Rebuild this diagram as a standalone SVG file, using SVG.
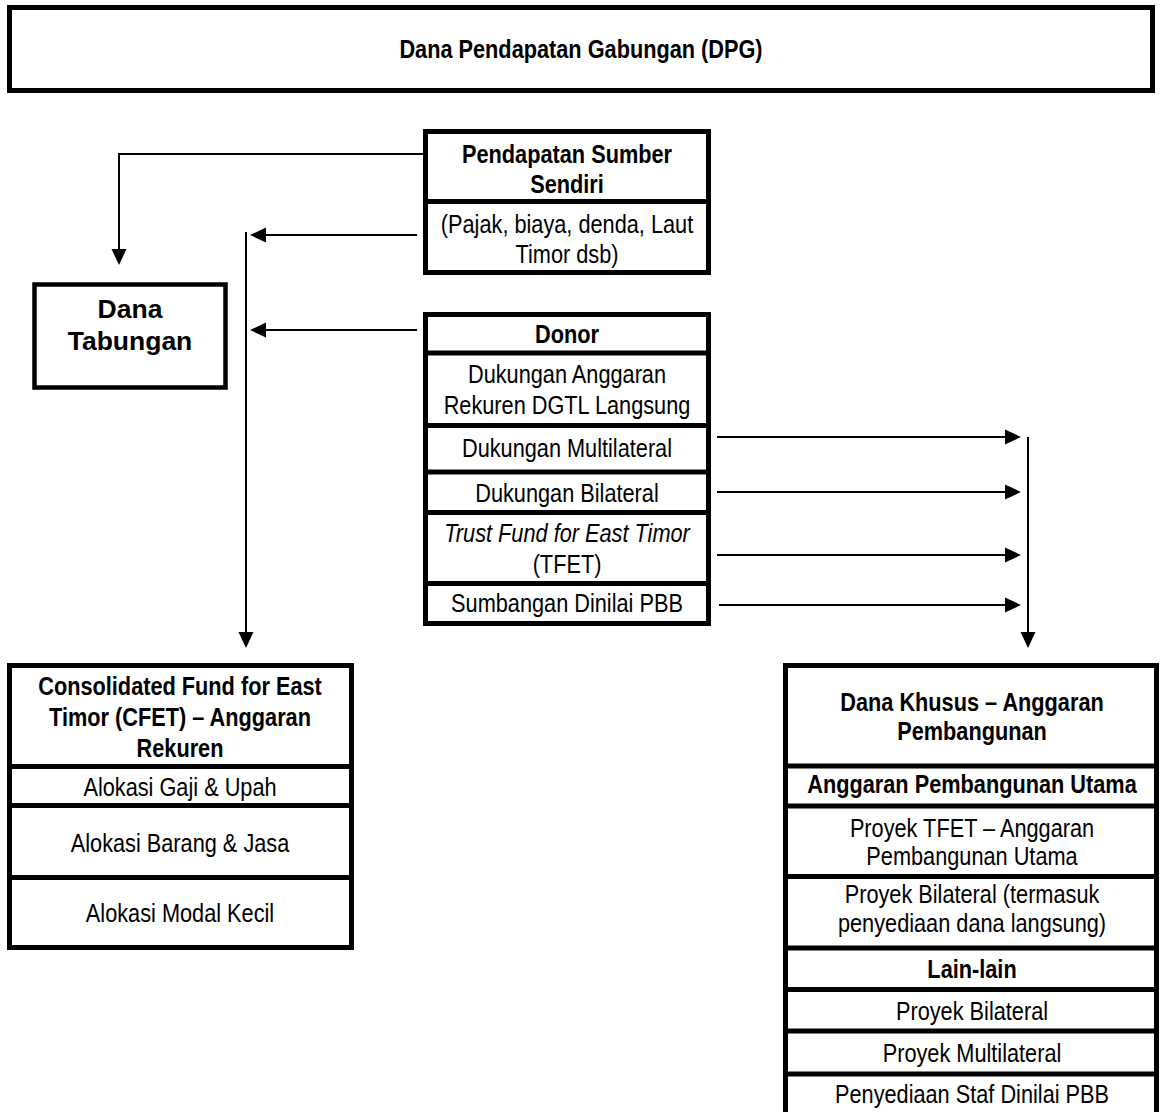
<svg xmlns="http://www.w3.org/2000/svg" width="1160" height="1112" viewBox="0 0 1160 1112">
<style>
.box{fill:#fff;stroke:#000;stroke-width:5}
.div{stroke:#000;stroke-width:5}
.t{font-family:"Liberation Sans",Arial,sans-serif;font-size:26.5px;text-anchor:middle;fill:#000}
.b{font-weight:bold}
.i{font-style:italic}
.c{fill:none;stroke:#000;stroke-width:2}
</style>
<defs>
<marker id="ah" markerUnits="userSpaceOnUse" markerWidth="16" markerHeight="16" refX="0" refY="7.5" orient="auto" overflow="visible">
<path d="M0,0 L16,7.5 L0,15 Z" fill="#000"/>
</marker>
</defs>
<rect width="1160" height="1112" fill="#fff"/>

<g id="dpg">
<rect class="box" x="9.5" y="7.5" width="1143" height="83"/>
<g transform="translate(581 0) scale(0.82 1)">
<text class="t b" x="0" y="58">Dana Pendapatan Gabungan (DPG)</text>
</g>
</g>

<g id="pendapatan">
<rect class="box" x="425.5" y="131.5" width="283" height="141"/>
<line class="div" x1="425.5" y1="201.5" x2="708.5" y2="201.5"/>
<g transform="translate(567 0) scale(0.82 1)">
<text class="t b" x="0" y="163">Pendapatan Sumber</text>
<text class="t b" x="0" y="193">Sendiri</text>
<text class="t" x="0" y="233">(Pajak, biaya, denda, Laut</text>
<text class="t" x="0" y="263">Timor dsb)</text>
</g>
</g>

<g id="tabungan">
<rect x="34.5" y="284.5" width="191" height="103" fill="#fff" stroke="#000" stroke-width="4.5"/>
<text class="t b" x="130" y="318">Dana</text>
<text class="t b" x="130" y="350">Tabungan</text>
</g>

<g id="donor">
<rect class="box" x="425.5" y="314.5" width="283" height="309"/>
<line class="div" x1="425.5" y1="353" x2="708.5" y2="353"/>
<line class="div" x1="425.5" y1="425.5" x2="708.5" y2="425.5"/>
<line class="div" x1="425.5" y1="472" x2="708.5" y2="472"/>
<line class="div" x1="425.5" y1="512.5" x2="708.5" y2="512.5"/>
<line class="div" x1="425.5" y1="583.5" x2="708.5" y2="583.5"/>
<g transform="translate(567 0) scale(0.82 1)">
<text class="t b" x="0" y="343">Donor</text>
<text class="t" x="0" y="383">Dukungan Anggaran</text>
<text class="t" x="0" y="414">Rekuren DGTL Langsung</text>
<text class="t" x="0" y="457">Dukungan Multilateral</text>
<text class="t" x="0" y="502">Dukungan Bilateral</text>
<text class="t i" x="0" y="542">Trust Fund for East Timor</text>
<text class="t" x="0" y="573">(TFET)</text>
<text class="t" x="0" y="612">Sumbangan Dinilai PBB</text>
</g>
</g>

<g id="cfet">
<rect class="box" x="9.5" y="665.5" width="342" height="282"/>
<line class="div" x1="9.5" y1="766.5" x2="351.5" y2="766.5"/>
<line class="div" x1="9.5" y1="805.5" x2="351.5" y2="805.5"/>
<line class="div" x1="9.5" y1="877.5" x2="351.5" y2="877.5"/>
<g transform="translate(180 0) scale(0.82 1)">
<text class="t b" x="0" y="695">Consolidated Fund for East</text>
<text class="t b" x="0" y="726">Timor (CFET) – Anggaran</text>
<text class="t b" x="0" y="757">Rekuren</text>
<text class="t" x="0" y="796">Alokasi Gaji &amp; Upah</text>
<text class="t" x="0" y="852">Alokasi Barang &amp; Jasa</text>
<text class="t" x="0" y="922">Alokasi Modal Kecil</text>
</g>
</g>

<g id="khusus">
<rect class="box" x="785.5" y="665.5" width="371" height="480"/>
<line class="div" x1="785.5" y1="766" x2="1156.5" y2="766"/>
<line class="div" x1="785.5" y1="806" x2="1156.5" y2="806"/>
<line class="div" x1="785.5" y1="876.5" x2="1156.5" y2="876.5"/>
<line class="div" x1="785.5" y1="948" x2="1156.5" y2="948"/>
<line class="div" x1="785.5" y1="989.5" x2="1156.5" y2="989.5"/>
<line class="div" x1="785.5" y1="1031" x2="1156.5" y2="1031"/>
<line class="div" x1="785.5" y1="1074" x2="1156.5" y2="1074"/>
<g transform="translate(972 0) scale(0.82 1)">
<text class="t b" x="0" y="711">Dana Khusus – Anggaran</text>
<text class="t b" x="0" y="740">Pembangunan</text>
<text class="t b" x="0" y="793">Anggaran Pembangunan Utama</text>
<text class="t" x="0" y="837">Proyek TFET – Anggaran</text>
<text class="t" x="0" y="865">Pembangunan Utama</text>
<text class="t" x="0" y="903">Proyek Bilateral (termasuk</text>
<text class="t" x="0" y="932">penyediaan dana langsung)</text>
<text class="t b" x="0" y="978">Lain-lain</text>
<text class="t" x="0" y="1020">Proyek Bilateral</text>
<text class="t" x="0" y="1062">Proyek Multilateral</text>
<text class="t" x="0" y="1103">Penyediaan Staf Dinilai PBB</text>
</g>
</g>

<g id="connectors">
<path class="c" d="M423,154 H119 V249" marker-end="url(#ah)"/>
<path class="c" d="M417,235 H266" marker-end="url(#ah)"/>
<path class="c" d="M417,330 H266" marker-end="url(#ah)"/>
<path class="c" d="M246,232 V632" marker-end="url(#ah)"/>
<path class="c" d="M717,437 H1005" marker-end="url(#ah)"/>
<path class="c" d="M717,492 H1005" marker-end="url(#ah)"/>
<path class="c" d="M717,555 H1005" marker-end="url(#ah)"/>
<path class="c" d="M719,605 H1005" marker-end="url(#ah)"/>
<path class="c" d="M1028,437 V632" marker-end="url(#ah)"/>
</g>
</svg>
